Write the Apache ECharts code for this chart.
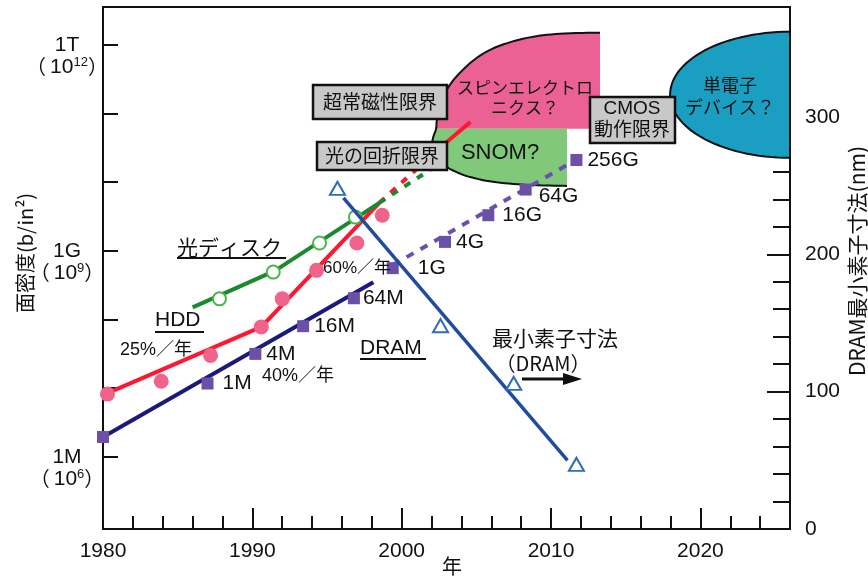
<!DOCTYPE html>
<html>
<head>
<meta charset="utf-8">
<script src="https://cdn.jsdelivr.net/npm/echarts@6/dist/echarts.min.js"></script>
<style>
  html, body { margin: 0; padding: 0; background: #fff; }
  #chart { width: 868px; height: 577px; }
</style>
</head>
<body>
<div id="chart"></div>
<script>
// ---- Areal density (b/in²) by year ----
// HDD
const hddYears   = [1980.3, 1983.9, 1987.2, 1990.6, 1992.0, 1994.3, 1997.0, 1998.7];
const hddDensity = [8.2e6, 1.26e7, 3.0e7, 7.8e7, 2.0e8, 5.2e8, 1.3e9, 3.3e9];
const hddTrendYears = [1980.3, 1990.6, 1998.5];
const hddTrend      = [8.5e6, 7.8e7, 5.0e9];
const hddOutlookYears = [1998.5, 2003.0];
const hddOutlook      = [5.0e9, 3.8e10];
const hddBeyondYears  = [2003.0, 2004.6];
const hddBeyond       = [3.8e10, 7.5e10];

// Optical disk
const odYears   = [1987.8, 1991.4, 1994.5, 1996.9];
const odDensity = [2.0e8, 4.9e8, 1.3e9, 3.1e9];
const odTrendYears = [1986.0, 1991.5, 1998.5];
const odTrend      = [1.5e8, 5.1e8, 5.0e9];
const odOutlookYears = [1998.5, 2002.6];
const odOutlook      = [5.0e9, 1.9e10];

// DRAM
const dramYears   = [1980.0, 1987.0, 1990.2, 1993.4, 1996.8, 1999.4, 2002.9, 2005.8, 2008.3, 2011.7];
const dramDensity = [1.95e6, 1.17e7, 3.16e7, 8.0e7, 2.04e8, 5.6e8, 1.35e9, 3.3e9, 7.8e9, 2.1e10];
const dramGenerations = ['', '1M', '4M', '16M', '64M', '1G', '4G', '16G', '64G', '256G'];
const dramTrendYears = [1980.0, 1998.1];
const dramTrend      = [1.95e6, 3.5e8];
const dramOutlookYears = [1999.4, 2011.3];
const dramOutlook      = [6.2e8, 1.9e10];

// DRAM minimum feature size (nm)
const featureYears = [1995.7, 2002.6, 2007.5, 2011.7];
const featureNm    = [248, 148, 106, 47];
const featureTrendYears = [1996.1, 2011.1];
const featureTrendNm    = [241, 50];

// Technology regions, outlines as [year, b/in²]
const spinOutline = [[2013.28,1.50e12],[2010.60,1.45e12],[2008.39,1.26e12],[2006.38,9.35e11],[2005.04,6.47e11],
  [2003.90,3.91e11],[2003.10,2.36e11],[2002.63,1.34e11],[2002.36,8.07e10],[2002.30,5.97e10]];
const snomOutline = [[2002.30,5.97e10],[2002.10,4.42e10],[2002.03,3.16e10],[2002.30,2.25e10],[2002.90,1.73e10],
  [2003.64,1.41e10],[2004.57,1.19e10],[2006.11,1.01e10],[2008.39,9.12e9],[2011.07,8.81e9]];
const spinRightYear = 2013.28;
const snomRightYear = 2011.07;
const regionSplitDensity = 5.97e10;
// single-electron device region: half ellipse [centre year, centre b/in², half width in years, half height in decades]
const setRegion = [2026.0, 1.87e11, 8.03, 0.918];

// ---- Axis ticks ----
const yearTicksMajor = [1980, 1990, 2000, 2010, 2020];
const densityTicks = [1e6, 1e7, 1e8, 1e9, 1e10, 1e11, 1e12];
const densityLabelTicks = [1e6, 1e9, 1e12];
const densityNames = { 6: '1M', 9: '1G', 12: '1T' };
const nmTicksMajor = [0, 100, 200, 300];

const LATIN = "'Liberation Sans', Arial, 'Noto Sans CJK JP', sans-serif";
const JP = "'Noto Sans CJK JP', 'Liberation Sans', sans-serif";
const INK = '#111';

const pairs = (xs, ys) => xs.map((x, i) => [x, ys[i]]);
const expOf = v => (v > 100 ? Math.round(Math.log10(v)) : Math.round(v));

function catmull(pts, n) {
  const out = [];
  for (let i = 0; i < pts.length - 1; i++) {
    const p0 = pts[Math.max(i - 1, 0)], p1 = pts[i], p2 = pts[i + 1], p3 = pts[Math.min(i + 2, pts.length - 1)];
    for (let k = 0; k < n; k++) {
      const t = k / n, t2 = t * t, t3 = t2 * t;
      out.push([0, 1].map(d => 0.5 * (2 * p1[d] + (-p0[d] + p2[d]) * t +
        (2 * p0[d] - 5 * p1[d] + 4 * p2[d] - p3[d]) * t2 +
        (-p0[d] + 3 * p1[d] - 3 * p2[d] + p3[d]) * t3)));
    }
  }
  out.push(pts[pts.length - 1]);
  return out;
}

function renderRegions(params, api) {
  const STEPS = 8;
  const outline = spinOutline.concat(snomOutline.slice(1)).map(p => api.coord(p));
  const smooth = catmull(outline, STEPS);
  const j = (spinOutline.length - 1) * STEPS;
  const pinkPts = smooth.slice(0, j + 1).concat([api.coord([spinRightYear, regionSplitDensity])]);
  const greenPts = smooth.slice(j).concat([api.coord([snomRightYear, regionSplitDensity])]);

  const [cy, cd, rx, ry] = setRegion;
  const ell = [];
  for (let k = 0; k <= 60; k++) {
    const t = Math.PI * k / 60;
    const yr = cy - rx * Math.sin(t);
    const e = Math.log10(cd) + ry * Math.cos(t);
    ell.push(api.coord([yr, Math.pow(10, e)]));
  }
  return {
    type: 'group',
    children: [
      { type: 'polygon', shape: { points: pinkPts }, style: { fill: '#ec6193', stroke: null } },
      { type: 'polygon', shape: { points: greenPts }, style: { fill: '#80c97a', stroke: null } },
      { type: 'polyline', shape: { points: smooth }, style: { stroke: INK, lineWidth: 2, fill: null } },
      { type: 'polygon', shape: { points: ell }, style: { fill: '#1a9fc3', stroke: INK, lineWidth: 2 } }
    ]
  };
}

const dramLabelGap = [0, 9, 5, 5, 3, 19, 5, 8, 7, 5];
const dramLabelShiftY = [0, 0, 0, 0, 0, 0, 0, 0, 7, 0];
const dramItems = dramYears.map((y, i) => ({
  value: [y, dramDensity[i]],
  label: {
    show: dramGenerations[i] !== '',
    formatter: dramGenerations[i],
    position: 'right',
    distance: dramLabelGap[i],
    offset: [0, dramLabelShiftY[i]]
  }
}));

const chart = echarts.init(document.getElementById('chart'), null, { renderer: 'canvas' });

const tickStyle = { color: INK, width: 2 };

const option = {
  animation: false,
  backgroundColor: '#fff',
  grid: {
    left: 103, right: 78, top: 7, bottom: 48, containLabel: false, outerBoundsMode: 'none',
    show: true, borderColor: INK, borderWidth: 2
  },
  xAxis: [
    {
      type: 'value', min: 1980, max: 2026, interval: 2, position: 'bottom',
      axisLine: { lineStyle: { color: INK, width: 2 } },
      axisTick: { inside: true, length: 13, lineStyle: tickStyle },
      axisLabel: {
        customValues: yearTicksMajor, fontSize: 21, margin: 12, color: INK, fontFamily: LATIN,
        formatter: v => String(Math.round(v))
      },
      splitLine: { show: false },
      name: '年', nameLocation: 'middle', nameGap: 27, nameMoveOverlap: false,
      nameTextStyle: { fontSize: 20, color: INK, fontFamily: JP, padding: [0, 0, 0, 11] }
    },
    {
      type: 'value', min: 1980, max: 2026, position: 'bottom',
      axisLine: { show: false },
      axisTick: { inside: true, length: 21, customValues: yearTicksMajor, lineStyle: tickStyle },
      axisLabel: { show: false },
      splitLine: { show: false }
    }
  ],
  yAxis: [
    {
      type: 'log', logBase: 10, min: Math.pow(10, 4.95), max: Math.pow(10, 12.55), position: 'left',
      axisLine: { lineStyle: { color: INK, width: 2 } },
      axisTick: { inside: true, length: 15, customValues: densityTicks, lineStyle: tickStyle },
      axisLabel: {
        customValues: densityLabelTicks, align: 'center', margin: 36,
        fontSize: 21, color: INK, fontFamily: LATIN,
        formatter: v => densityNames[expOf(v)] || ''
      },
      splitLine: { show: false },
      name: '面密度(b/in²)', nameLocation: 'middle', nameGap: 68, nameMoveOverlap: false,
      nameTextStyle: { fontSize: 20, color: INK, fontFamily: JP, padding: [0, 0, 0, 30] }
    },
    {
      type: 'log', logBase: 10, min: Math.pow(10, 4.95), max: Math.pow(10, 12.55), position: 'left',
      axisLine: { show: false }, axisTick: { show: false }, splitLine: { show: false },
      axisLabel: {
        customValues: densityLabelTicks, align: 'center', margin: 36,
        verticalAlign: 'top', padding: [11, 0, 0, 0], color: INK,
        formatter: v => '{p|（}{g|}{n|10}{s|' + expOf(v) + '}{p|）}',
        rich: {
          p: { fontSize: 20, fontFamily: JP, color: INK, lineHeight: 22 },
          g: { width: 4, lineHeight: 22 },
          n: { fontSize: 21, fontFamily: LATIN, color: INK, lineHeight: 22 },
          s: { fontSize: 13, fontFamily: LATIN, color: INK, lineHeight: 13, verticalAlign: 'top' }
        }
      }
    },
    {
      type: 'value', min: 0, max: 380, interval: 20, position: 'right',
      axisLine: { lineStyle: { color: INK, width: 2 } },
      axisTick: { inside: true, length: 17, lineStyle: tickStyle },
      axisLabel: { customValues: nmTicksMajor, margin: 15, fontSize: 21, color: INK, fontFamily: LATIN },
      splitLine: { show: false },
      name: 'DRAM最小素子寸法(nm)', nameLocation: 'middle', nameGap: 57, nameMoveOverlap: false,
      nameTextStyle: { fontSize: 21, color: INK, fontFamily: JP, padding: [0, 0, 0, 14] }
    },
    {
      type: 'value', min: 0, max: 380, position: 'right',
      axisLine: { show: false },
      axisTick: { inside: true, length: 23, customValues: nmTicksMajor, lineStyle: tickStyle },
      axisLabel: { show: false },
      splitLine: { show: false }
    }
  ],
  series: [
    {
      name: 'regions', type: 'custom', xAxisIndex: 0, yAxisIndex: 0, silent: true, z: 1,
      data: [[2010, 1e10]], renderItem: renderRegions
    },
    // HDD
    {
      type: 'line', xAxisIndex: 0, yAxisIndex: 0, data: pairs(hddTrendYears, hddTrend),
      symbol: 'none', lineStyle: { color: '#ff1630', width: 4 }, z: 3
    },
    {
      type: 'line', xAxisIndex: 0, yAxisIndex: 0, data: pairs(hddOutlookYears, hddOutlook),
      symbol: 'none', lineStyle: { color: '#ff1630', width: 4, type: [7, 8] }, z: 3
    },
    {
      type: 'line', xAxisIndex: 0, yAxisIndex: 0, data: pairs(hddBeyondYears, hddBeyond),
      symbol: 'none', lineStyle: { color: '#ff1630', width: 4 }, z: 6
    },
    {
      type: 'scatter', xAxisIndex: 0, yAxisIndex: 0, data: pairs(hddYears, hddDensity),
      symbol: 'circle', symbolSize: 15, itemStyle: { color: '#f0648c', opacity: 1 }, z: 4
    },
    // Optical disk
    {
      type: 'line', xAxisIndex: 0, yAxisIndex: 0, data: pairs(odTrendYears, odTrend),
      symbol: 'none', lineStyle: { color: '#1b8a2f', width: 4 }, z: 3
    },
    {
      type: 'line', xAxisIndex: 0, yAxisIndex: 0, data: pairs(odOutlookYears, odOutlook),
      symbol: 'none', lineStyle: { color: '#1b8a2f', width: 4, type: [7, 8] }, z: 3
    },
    {
      type: 'scatter', xAxisIndex: 0, yAxisIndex: 0, data: pairs(odYears, odDensity),
      symbol: 'circle', symbolSize: 13,
      itemStyle: { color: '#fff', borderColor: '#4cb64c', borderWidth: 2, opacity: 1 }, z: 5
    },
    // DRAM
    {
      type: 'line', xAxisIndex: 0, yAxisIndex: 0, data: pairs(dramTrendYears, dramTrend),
      symbol: 'none', lineStyle: { color: '#1a1a7c', width: 4 }, z: 3
    },
    {
      type: 'line', xAxisIndex: 0, yAxisIndex: 0, data: pairs(dramOutlookYears, dramOutlook),
      symbol: 'none', lineStyle: { color: '#6a4fb0', width: 4, type: [8, 8] }, z: 3
    },
    {
      type: 'scatter', xAxisIndex: 0, yAxisIndex: 0, data: dramItems,
      symbol: 'rect', symbolSize: 12, itemStyle: { color: '#6b50a8', opacity: 1 }, z: 4,
      label: { fontSize: 21, color: INK, fontFamily: LATIN }
    },
    // minimum feature size
    {
      type: 'line', xAxisIndex: 0, yAxisIndex: 2, data: pairs(featureTrendYears, featureTrendNm),
      symbol: 'none', lineStyle: { color: '#1f4c9e', width: 3.5 }, z: 7
    },
    {
      type: 'scatter', xAxisIndex: 0, yAxisIndex: 2, data: pairs(featureYears, featureNm),
      symbol: 'triangle', symbolSize: [15, 13],
      itemStyle: { color: '#fff', borderColor: '#2e6cb6', borderWidth: 2, opacity: 1 }, z: 8
    }
  ],
  graphic: [
    // series captions
    { type: 'text', x: 177, y: 247, z: 50, style: { text: '光ディスク', fontSize: 21, fontFamily: JP, fill: INK, verticalAlign: 'middle' } },
    { type: 'line', z: 50, shape: { x1: 177, y1: 258, x2: 286, y2: 258 }, style: { stroke: INK, lineWidth: 2 } },
    { type: 'text', x: 155, y: 320, z: 50, style: { text: 'HDD', fontSize: 21, fontFamily: LATIN, fill: INK, verticalAlign: 'middle' } },
    { type: 'line', z: 50, shape: { x1: 155, y1: 332, x2: 204, y2: 332 }, style: { stroke: INK, lineWidth: 2 } },
    { type: 'text', x: 360, y: 348, z: 50, style: { text: 'DRAM', fontSize: 21, fontFamily: LATIN, fill: INK, verticalAlign: 'middle' } },
    { type: 'line', z: 50, shape: { x1: 360, y1: 359, x2: 426, y2: 359 }, style: { stroke: INK, lineWidth: 2 } },
    { type: 'text', x: 120, y: 350, z: 50, style: { text: '25%／年', fontSize: 18, fontFamily: LATIN, fill: INK, verticalAlign: 'middle' } },
    { type: 'text', x: 262, y: 376, z: 50, style: { text: '40%／年', fontSize: 18, fontFamily: LATIN, fill: INK, verticalAlign: 'middle' } },
    { type: 'text', x: 323, y: 268, z: 50, style: { text: '60%／年', fontSize: 17, fontFamily: LATIN, fill: INK, verticalAlign: 'middle' } },
    { type: 'text', x: 555, y: 338, z: 50, style: { text: '最小素子寸法', fontSize: 21, fontFamily: JP, fill: INK, align: 'center', verticalAlign: 'middle' } },
    { type: 'text', x: 543, y: 363, z: 50, style: { text: '（DRAM）', fontSize: 20, fontFamily: JP, fill: INK, align: 'center', verticalAlign: 'middle' } },
    { type: 'line', z: 50, shape: { x1: 522, y1: 379, x2: 566, y2: 379 }, style: { stroke: INK, lineWidth: 3 } },
    { type: 'polygon', z: 50, shape: { points: [[563, 373], [582, 379], [563, 385]] }, style: { fill: INK } },
    // region captions
    { type: 'text', x: 525, y: 98, z: 50, style: { text: 'スピンエレクトロ\nニクス？', fontSize: 17, lineHeight: 20, fontFamily: JP, fill: INK, align: 'center', verticalAlign: 'middle' } },
    { type: 'text', x: 500, y: 153, z: 50, style: { text: 'SNOM?', fontSize: 22, fontFamily: LATIN, fill: INK, align: 'center', verticalAlign: 'middle' } },
    { type: 'text', x: 730, y: 96, z: 50, style: { text: '単電子\nデバイス？', fontSize: 18, lineHeight: 22, fontFamily: JP, fill: INK, align: 'center', verticalAlign: 'middle' } },
    // limit boxes
    { type: 'rect', z: 60, shape: { x: 313, y: 85, width: 134, height: 34 }, style: { fill: '#c8c8c8', stroke: INK, lineWidth: 2.5 } },
    { type: 'text', x: 380, y: 102, z: 61, style: { text: '超常磁性限界', fontSize: 19, fontFamily: JP, fill: INK, align: 'center', verticalAlign: 'middle' } },
    { type: 'rect', z: 60, shape: { x: 317, y: 142, width: 130, height: 28 }, style: { fill: '#c8c8c8', stroke: INK, lineWidth: 2.5 } },
    { type: 'text', x: 382, y: 156, z: 61, style: { text: '光の回折限界', fontSize: 19, fontFamily: JP, fill: INK, align: 'center', verticalAlign: 'middle' } },
    { type: 'rect', z: 60, shape: { x: 590, y: 97, width: 85, height: 46 }, style: { fill: '#c8c8c8', stroke: INK, lineWidth: 2.5 } },
    { type: 'text', x: 632, y: 120, z: 61, style: { text: 'CMOS\n動作限界', fontSize: 19, lineHeight: 22, fontFamily: LATIN, fill: INK, align: 'center', verticalAlign: 'middle' } }
  ]
};

chart.setOption(option);
</script>
</body>
</html>
